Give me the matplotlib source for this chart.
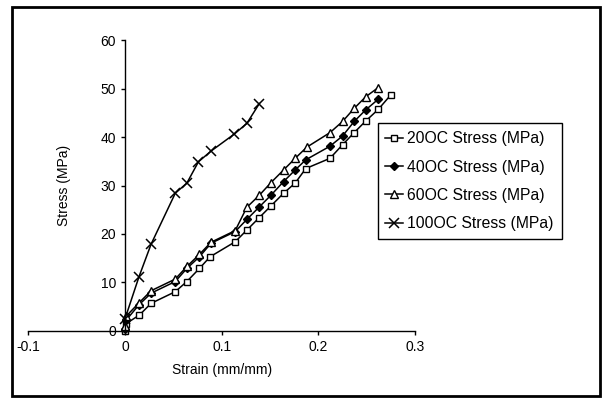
import matplotlib
matplotlib.use("Agg")
import matplotlib.pyplot as plt
from matplotlib.patches import Rectangle

plt.rcParams['font.family'] = ['Liberation Sans', 'DejaVu Sans']

# strain (mm/mm) and stress (MPa)
strain_20 = [0.0, 0.001, 0.015, 0.027, 0.052, 0.064, 0.077, 0.088, 0.114, 0.126, 0.139,
             0.151, 0.164, 0.176, 0.187, 0.212, 0.225, 0.237, 0.249, 0.262, 0.275]
stress_20 = [0.0, 1.5, 3.3, 5.7, 8.1, 10.2, 12.9, 15.3, 18.4, 20.8, 23.4,
             25.8, 28.4, 30.5, 33.5, 35.6, 38.4, 40.9, 43.3, 45.7, 48.7]

strain_40 = [0.0, 0.001, 0.0145, 0.027, 0.052, 0.064, 0.077, 0.089, 0.114, 0.126, 0.139,
             0.151, 0.164, 0.176, 0.187, 0.212, 0.225, 0.237, 0.249, 0.262]
stress_40 = [0.5, 2.2, 5.4, 7.8, 10.2, 12.9, 15.3, 18.1, 20.5, 23.0, 25.6,
             28.0, 30.8, 33.2, 35.3, 38.1, 40.2, 43.2, 45.6, 47.8]

strain_60 = [0.0, 0.001, 0.0145, 0.027, 0.052, 0.064, 0.077, 0.089, 0.114, 0.126, 0.139,
             0.151, 0.164, 0.176, 0.188, 0.212, 0.225, 0.237, 0.249, 0.262]
stress_60 = [1.0, 3.0, 5.8, 8.3, 10.7, 13.3, 15.8, 18.3, 20.7, 25.5, 28.0,
             30.6, 33.2, 35.6, 37.9, 40.9, 43.2, 45.9, 48.3, 50.2]

strain_100 = [0.0, 0.0145, 0.027, 0.052, 0.064, 0.076, 0.089, 0.113, 0.126, 0.139]
stress_100 = [2.5, 11.2, 17.9, 28.4, 30.5, 34.9, 37.1, 40.6, 42.8, 46.9]

labels = ["20OC Stress (MPa)", "40OC Stress (MPa)", "60OC Stress (MPa)", "100OC Stress (MPa)"]

fig = plt.figure(figsize=(6.1, 4.03), dpi=100)
ax = fig.add_axes([0.0464, 0.1787, 0.634, 0.722])

ax.plot(strain_20, stress_20, '-s', color='black', lw=1.1, ms=5, mfc='white', mew=1,
        label=labels[0], clip_on=False)
ax.plot(strain_40, stress_40, '-D', color='black', lw=1.1, ms=4, mfc='black', mew=1,
        label=labels[1], clip_on=False)
ax.plot(strain_60, stress_60, '-^', color='black', lw=1.1, ms=5.5, mfc='white', mew=1,
        label=labels[2], clip_on=False)
ax.plot(strain_100, stress_100, '-x', color='black', lw=1.1, ms=7, mew=1.1,
        label=labels[3], clip_on=False)

ax.set_xlim(-0.1, 0.3)
ax.set_ylim(0, 60)
ax.set_xticks([-0.1, 0, 0.1, 0.2, 0.3])
ax.set_xticklabels(["-0.1", "0", "0.1", "0.2", "0.3"])
ax.set_yticks([0, 10, 20, 30, 40, 50, 60])

ax.spines['left'].set_position(('data', 0))
ax.spines['top'].set_visible(False)
ax.spines['right'].set_visible(False)
ax.spines['left'].set_linewidth(1)
ax.spines['bottom'].set_linewidth(1)
ax.tick_params(direction='out', length=3, width=1, labelsize=10, colors='black')

ax.set_xlabel("Strain (mm/mm)", fontsize=10)
ax.set_ylabel("Stress (MPa)", fontsize=10)
ax.xaxis.set_label_coords(0.5, -0.11)
ax.yaxis.set_label_coords(0.11, 0.5)

leg = fig.legend(loc='upper left', bbox_to_anchor=(0.619, 0.694), borderaxespad=0,
                 fontsize=11.3, frameon=True, fancybox=False, edgecolor='black',
                 framealpha=1, handlelength=1.1, handletextpad=0.3, labelspacing=0.85,
                 borderpad=0.5)
leg.get_frame().set_linewidth(1)

fig.patches.append(Rectangle((12 / 610, 7 / 403), 588 / 610, 389 / 403,
                             transform=fig.transFigure, fill=False,
                             edgecolor='black', linewidth=2))

fig.savefig("out.png", dpi=100)
